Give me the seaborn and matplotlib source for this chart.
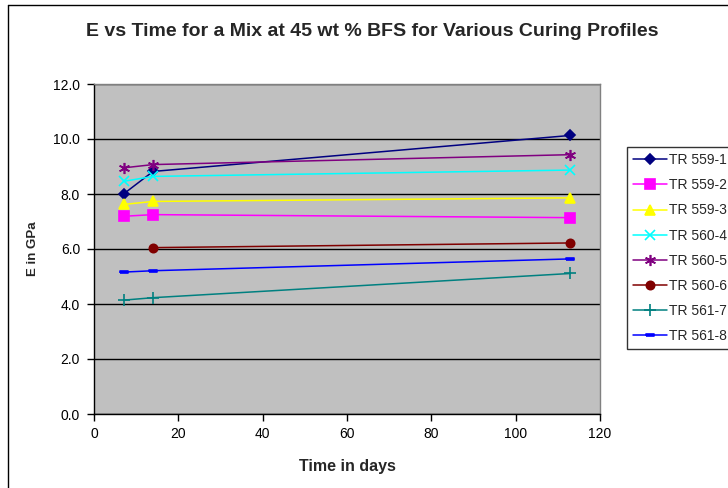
import matplotlib
matplotlib.use("Agg")
import matplotlib.pyplot as plt
from matplotlib.lines import Line2D
import seaborn as sns
import numpy as np
import pandas as pd

days = [7, 14, 113]
tr559_1 = [8.00, 8.82, 10.13]
tr559_2 = [7.19, 7.25, 7.14]
tr559_3 = [7.62, 7.73, 7.86]
tr560_4 = [8.46, 8.64, 8.87]
tr560_5 = [8.95, 9.07, 9.43]
tr560_6 = [np.nan, 6.05, 6.22]
tr561_7 = [4.14, 4.23, 5.11]
tr561_8 = [5.16, 5.21, 5.64]

labels = ["TR 559-1", "TR 559-2", "TR 559-3", "TR 560-4",
          "TR 560-5", "TR 560-6", "TR 561-7", "TR 561-8"]
series = [tr559_1, tr559_2, tr559_3, tr560_4, tr560_5, tr560_6, tr561_7, tr561_8]
colors = ["#000080", "#FF00FF", "#FFFF00", "#00FFFF",
          "#800080", "#800000", "#008080", "#0000FF"]
rect_marker = [(-1, -0.35), (1, -0.35), (1, 0.35), (-1, 0.35), (-1, -0.35)]
markers = ["D", "s", "^", "x", (6, 2, 0), "o", "+", rect_marker]
msizes = [5.5, 7, 7, 7, 8, 6, 8, 5.5]

sns.set_style("white")
plt.rcParams["font.family"] = ["Liberation Sans", "DejaVu Sans"]

fig = plt.figure(figsize=(7.28, 4.88), dpi=100)
W, H = 728, 488
ax = fig.add_axes([94 / W, 1 - 414 / H, (600 - 94) / W, (414 - 84) / H])
ax.set_facecolor("#C0C0C0")

rows = []
for lab, vals in zip(labels, series):
    for d, v in zip(days, vals):
        rows.append({"day": d, "E": v, "series": lab})
df = pd.DataFrame(rows)

handles = []
for lab, col, mk, ms in zip(labels, colors, markers, msizes):
    sub = df[df["series"] == lab].dropna()
    sns.lineplot(data=sub, x="day", y="E", ax=ax, color=col, linewidth=1.1,
                 marker=mk, markersize=ms, markeredgecolor=col, markerfacecolor=col,
                 markeredgewidth=1.2, legend=False, zorder=3)
    handles.append(Line2D([0], [0], color=col, linewidth=1.1, marker=mk,
                          markersize=ms, markeredgecolor=col,
                          markerfacecolor=col, markeredgewidth=1.2))

ax.set_xlim(0, 120)
ax.set_ylim(0, 12)
ax.set_xticks(np.arange(0, 121, 20))
ax.set_yticks(np.arange(0, 12.1, 2))
ax.set_yticklabels([f"{v:.1f}" for v in np.arange(0, 12.1, 2)])
ax.yaxis.grid(True, color="black", linewidth=1)
ax.xaxis.grid(False)
ax.set_axisbelow(True)
ax.tick_params(axis="both", direction="out", length=5, width=1, color="black",
               labelsize=10, labelcolor="black", left=True, bottom=True)
ax.tick_params(axis="y", pad=5)
ax.tick_params(axis="x", pad=4)
for s in ["left", "bottom"]:
    ax.spines[s].set_color("black")
    ax.spines[s].set_linewidth(1)
for s in ["top", "right"]:
    ax.spines[s].set_color("#808080")
    ax.spines[s].set_linewidth(1)

ax.set_xlabel("Time in days", fontsize=11.5, fontweight="bold", labelpad=13)
ax.set_ylabel("E in GPa", fontsize=9.5, fontweight="bold", labelpad=10)

fig.text(372 / W, 1 - 32 / H, "E vs Time for a Mix at 45 wt % BFS for Various Curing Profiles",
         ha="center", va="center", fontsize=14, fontweight="bold")

leg = fig.legend(handles, labels, loc="upper left",
                 bbox_to_anchor=(627 / W, 1 - 147 / H), bbox_transform=fig.transFigure,
                 fontsize=10, frameon=True, fancybox=False, shadow=False,
                 borderpad=0.45, labelspacing=0.8, handlelength=2.4,
                 handletextpad=0.2, borderaxespad=0)
leg.get_frame().set_edgecolor("black")
leg.get_frame().set_linewidth(1)
leg.get_frame().set_facecolor("white")

# outer chart border (left and top visible; right/bottom cut off)
fig.add_artist(Line2D([8 / W, 8 / W], [0, 1 - 5 / H], color="black", linewidth=1,
                      transform=fig.transFigure))
fig.add_artist(Line2D([8 / W, 1], [1 - 5 / H, 1 - 5 / H], color="black", linewidth=1,
                      transform=fig.transFigure))

fig.savefig("out.png", dpi=100)
